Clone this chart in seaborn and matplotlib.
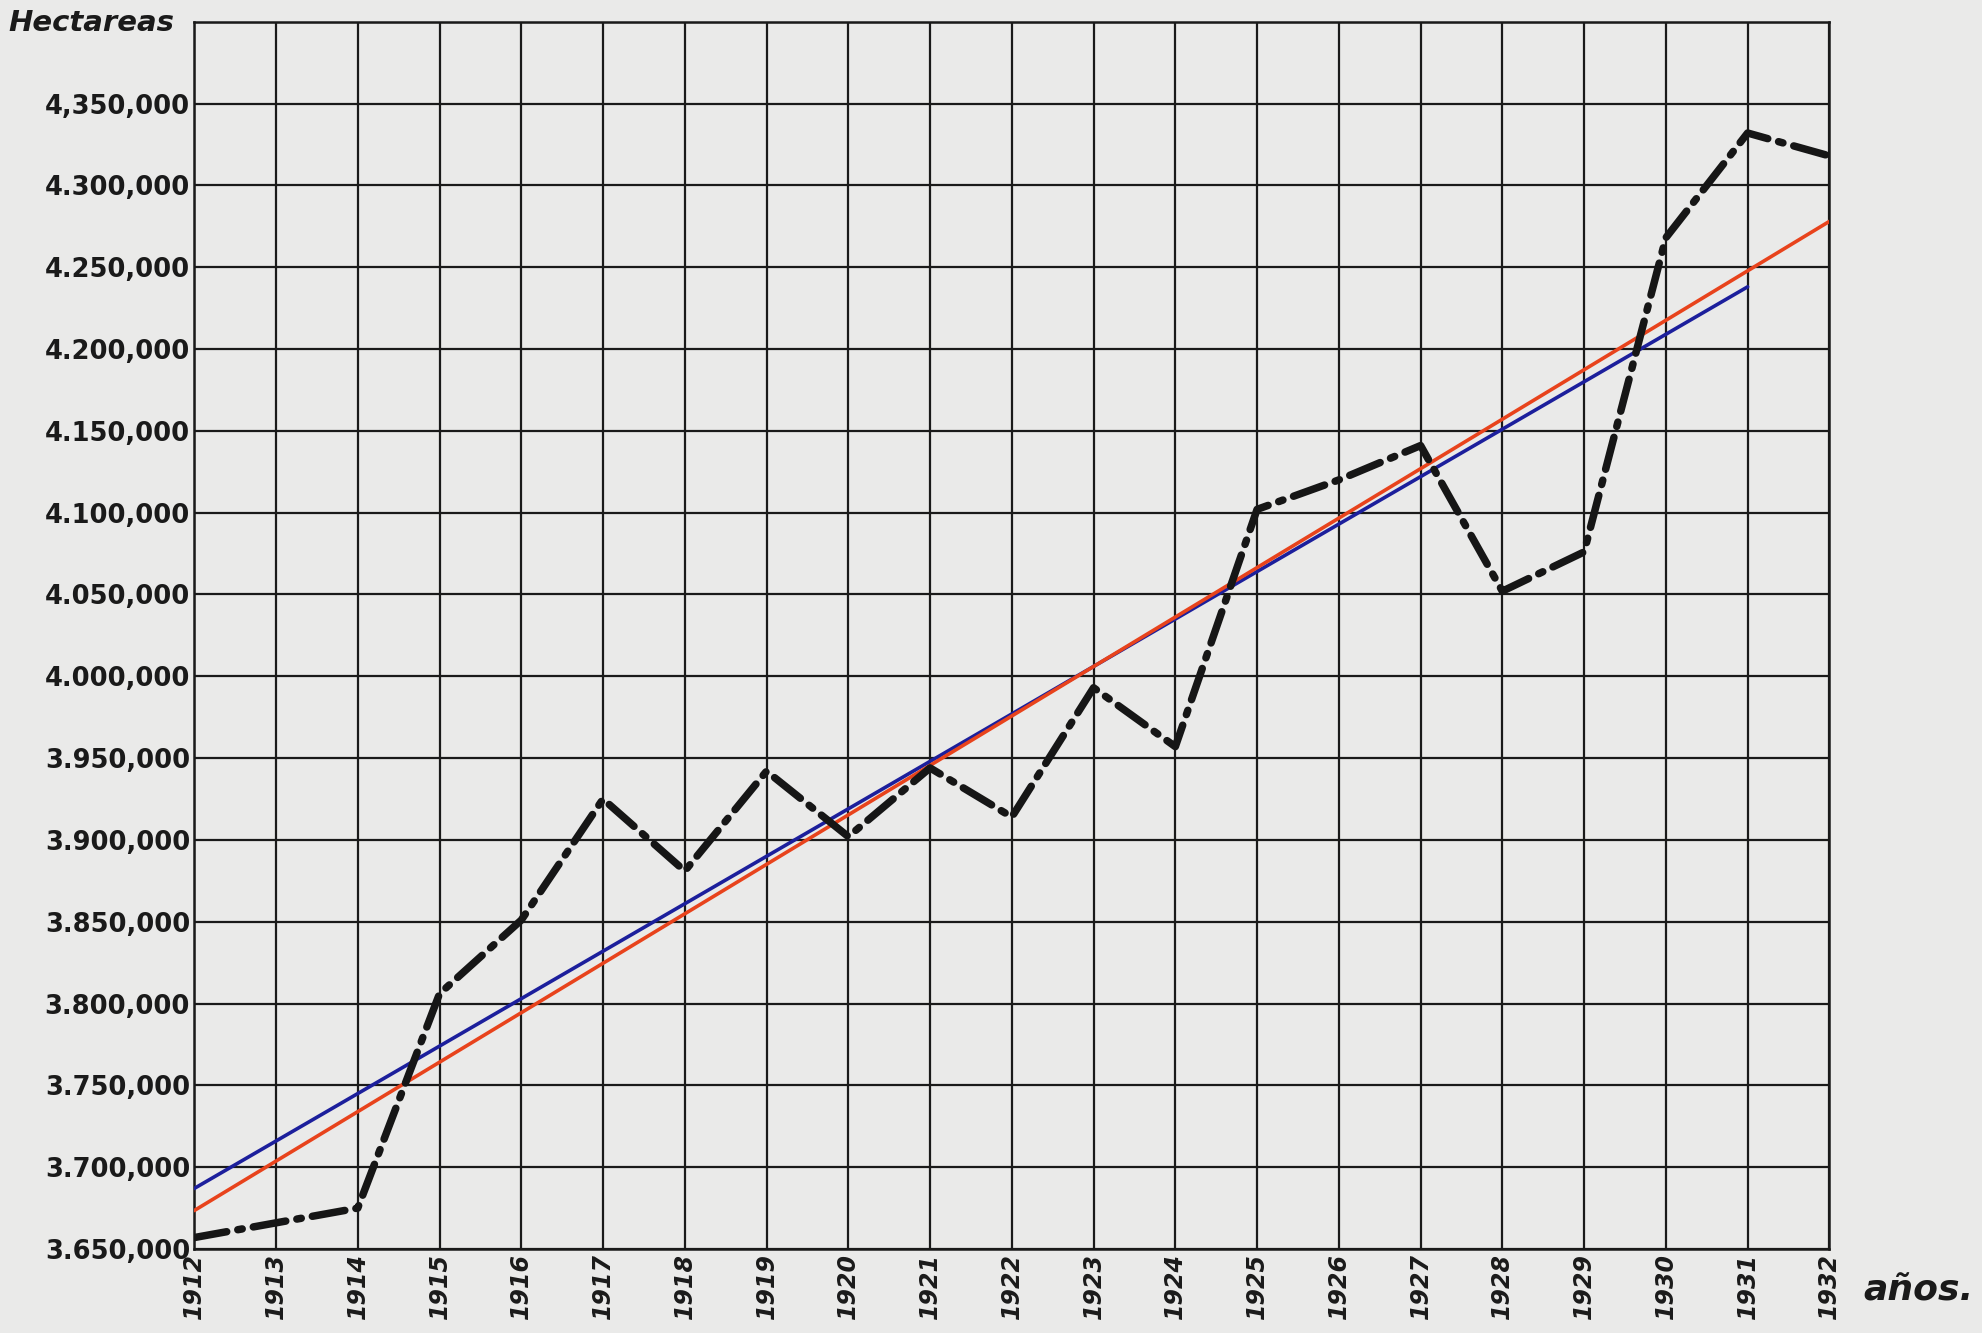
import matplotlib
matplotlib.use("Agg")
import matplotlib.pyplot as plt
import seaborn as sns
import pandas as pd

# ---- data ----
years = [1912, 1913, 1914, 1915, 1916, 1917, 1918, 1919, 1920, 1921, 1922,
         1923, 1924, 1925, 1926, 1927, 1928, 1929, 1930, 1931, 1932]
hectareas = [3657000, 3666000, 3675000, 3806000, 3851000, 3925000, 3881000,
             3942000, 3902000, 3944000, 3914000, 3993000, 3957000, 4102000,
             4120000, 4141000, 4052000, 4076000, 4268000, 4332000, 4318000]

blue_years = [1912, 1931]
blue_values = [3687000, 4238000]
red_years = [1912, 1932]
red_values = [3673500, 4278000]

ytick_values = [3650000, 3700000, 3750000, 3800000, 3850000, 3900000, 3950000,
                4000000, 4050000, 4100000, 4150000, 4200000, 4250000, 4300000,
                4350000]
ytick_labels = ["3.650,000", "3.700,000", "3.750,000", "3.800,000", "3.850,000",
                "3.900,000", "3.950,000", "4.000,000", "4.050,000", "4.100,000",
                "4.150,000", "4.200,000", "4.250,000", "4.300,000", "4,350,000"]
xtick_labels = [str(y) for y in years]

sns.set_theme(style="white")
plt.rcParams['font.family'] = ['DejaVu Sans']

paper = "#eaeae9"
fig = plt.figure(figsize=(19.82, 13.33), dpi=100, facecolor=paper)
ax = fig.add_axes([0.098, 0.063, 0.825, 0.9207])
ax.set_facecolor(paper)

df = pd.DataFrame({"year": years, "ha": hectareas})
df_blue = pd.DataFrame({"year": blue_years, "ha": blue_values})
df_red = pd.DataFrame({"year": red_years, "ha": red_values})

sns.lineplot(data=df_blue, x="year", y="ha", ax=ax, color="#1c1f9c", lw=2.6, zorder=3)
sns.lineplot(data=df_red, x="year", y="ha", ax=ax, color="#e8431c", lw=2.6, zorder=3)
sns.lineplot(data=df, x="year", y="ha", ax=ax, color="#161616", lw=5.4,
             linestyle=(0, (4.4, 1.5, 0.6, 1.5)), dash_capstyle="round", zorder=4)

ax.set_xlim(1912, 1932)
ax.set_ylim(3650000, 4400000)
ax.set_xticks(years)
ax.set_xticklabels(xtick_labels, rotation=90, fontsize=17, fontweight="bold",
                   fontstyle="italic")
ax.set_yticks(ytick_values + [4400000])
ax.set_yticklabels(ytick_labels + [""], fontsize=18.5, fontweight="bold")
ax.tick_params(axis="both", length=0, pad=3, colors="#1a1a1a")
ax.grid(True, color="#1a1a1a", lw=1.6)
for s in ax.spines.values():
    s.set_visible(True)
    s.set_color("#1a1a1a")
    s.set_linewidth(1.8)
ax.set_xlabel("")
ax.set_ylabel("")

fig.text(0.004, 0.983, "Hectareas", fontsize=21, fontstyle="italic",
         fontweight="bold", ha="left", va="center", color="#1a1a1a")
fig.text(0.94, 0.032, "años.", fontsize=26, fontstyle="italic",
         fontweight="bold", ha="left", va="center", color="#1a1a1a")

fig.savefig("out.png", dpi=100, facecolor=paper)
